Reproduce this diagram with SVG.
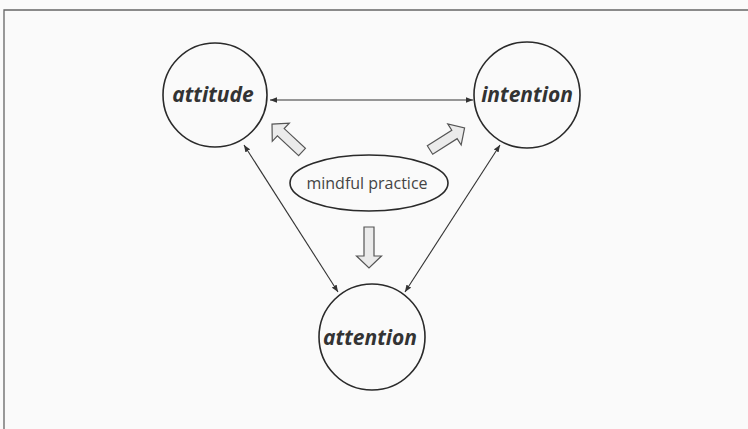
<svg xmlns="http://www.w3.org/2000/svg" width="748" height="429" viewBox="0 0 748 429">
<style>
.node{fill:none;stroke:#2a2a2a;stroke-width:1.6}
.lbl{font-family:"Open Sans","Noto Sans",sans-serif;font-weight:bold;font-style:italic;font-size:21px;fill:#333;text-anchor:middle}
.mp{font-family:"Open Sans","Noto Sans",sans-serif;font-size:16px;fill:#444;text-anchor:middle}
.conn{stroke:#333;stroke-width:1.1;fill:none;marker-start:url(#ah);marker-end:url(#ah)}
.blk{fill:#ebebeb;stroke:#555;stroke-width:1.2;stroke-linejoin:miter}
</style>
<defs>
<marker id="ah" viewBox="0 0 10 10" refX="10" refY="5" markerWidth="7" markerHeight="7" markerUnits="userSpaceOnUse" orient="auto-start-reverse">
<path d="M0,1 L10,5 L0,9 Z" fill="#333"/>
</marker>
<path id="blockArrow" d="M0,-5 L29,-5 L29,-12.5 L41,0 L29,12.5 L29,5 L0,5 Z"/>
</defs>
<rect x="0" y="0" width="748" height="429" fill="#fafafa"/>
<path d="M4,429 L4,10 L748,10" fill="none" stroke="#666" stroke-width="1.3"/>
<g id="connectors">
<line class="conn" x1="270" y1="100" x2="473" y2="100"/>
<line class="conn" x1="244" y1="145" x2="338" y2="292"/>
<line class="conn" x1="500" y1="145" x2="405" y2="292"/>
<use class="blk" href="#blockArrow" transform="translate(302,152) rotate(-137)"/>
<use class="blk" href="#blockArrow" transform="translate(430,150) rotate(-32.5)"/>
<use class="blk" href="#blockArrow" transform="translate(369,227) rotate(90)"/>
</g>
<g id="attitude">
<circle class="node" cx="215" cy="95" r="52"/>
<text class="lbl" x="213" y="102">attitude</text>
</g>
<g id="intention">
<circle class="node" cx="527" cy="95" r="53"/>
<text class="lbl" x="527" y="102">intention</text>
</g>
<g id="attention">
<circle class="node" cx="372" cy="337" r="53"/>
<text class="lbl" x="370" y="345">attention</text>
</g>
<g id="mindful-practice">
<ellipse class="node" cx="369" cy="183" rx="79" ry="28"/>
<text class="mp" x="367" y="189">mindful practice</text>
</g>
</svg>
